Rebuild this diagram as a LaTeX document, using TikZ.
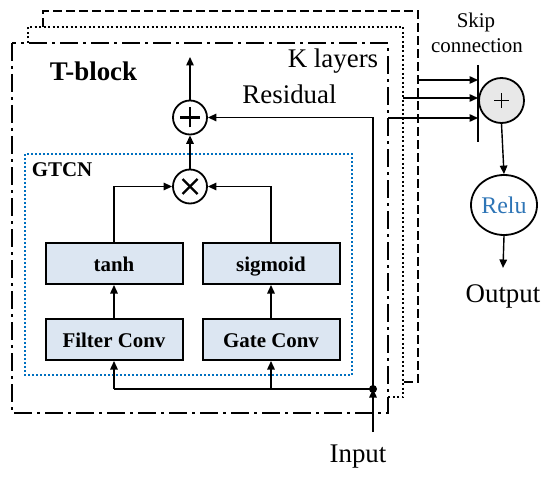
\documentclass[tikz,border=0pt]{standalone}
\usepackage{fontspec}
\setmainfont{Liberation Serif}
\usetikzlibrary{arrows.meta,shapes.geometric}
\definecolor{boxfill}{RGB}{220,230,242}
\definecolor{gtcnblue}{RGB}{0,112,192}
\definecolor{relublue}{RGB}{46,117,182}
\definecolor{skipfill}{RGB}{232,232,232}
\begin{document}
\begin{tikzpicture}[x=1bp,y=-1bp,
  conn/.style={line width=1.4bp,-{Triangle[length=8.5bp,width=7.5bp]}},
  plain/.style={line width=1.4bp},
  fbox/.style={draw,line width=2bp,fill=boxfill,minimum width=137bp,minimum height=41bp,
    inner sep=0pt,text height=16bp,text depth=0bp,font=\fontsize{21}{24}\selectfont\bfseries},
  opc/.style={draw,circle,line width=1.8bp,minimum size=34bp,inner sep=0pt},
  plussign/.style={path picture={
    \draw[line width=2.2bp] ([xshift=-10bp]path picture bounding box.center) -- ([xshift=10bp]path picture bounding box.center);
    \draw[line width=2.2bp] ([yshift=-10bp]path picture bounding box.center) -- ([yshift=10bp]path picture bounding box.center);}},
  timessign/.style={path picture={
    \draw[line width=2.2bp] ([shift={(-7.5bp,-7.5bp)}]path picture bounding box.center) -- ([shift={(7.5bp,7.5bp)}]path picture bounding box.center);
    \draw[line width=2.2bp] ([shift={(-7.5bp,7.5bp)}]path picture bounding box.center) -- ([shift={(7.5bp,-7.5bp)}]path picture bounding box.center);}},
  thinplus/.style={path picture={
    \draw[line width=1.2bp] ([xshift=-7.5bp]path picture bounding box.center) -- ([xshift=7.5bp]path picture bounding box.center);
    \draw[line width=1.2bp] ([yshift=-7.5bp]path picture bounding box.center) -- ([yshift=7.5bp]path picture bounding box.center);}},
  bigtxt/.style={inner sep=0pt,anchor=base,font=\fontsize{27}{30}\selectfont},
  smalltxt/.style={inner sep=0pt,anchor=base,font=\fontsize{21}{24}\selectfont},
]
\useasboundingbox (0,0) rectangle (550,479);

% stacked layer frames
\draw[line width=2bp,dash pattern=on 9bp off 4bp] (43,27) -- (43,11) -- (418,11) -- (418,382) -- (403,382);
\draw[line width=2bp,dash pattern=on 2bp off 2.5bp] (28,43) -- (28,27) -- (403,27) -- (403,397) -- (388,397);
\draw[line width=2.2bp,dash pattern=on 18bp off 5bp on 3bp off 5bp] (12,43) rectangle (388,413);

% GTCN frame
\draw[gtcnblue,line width=2bp,dash pattern=on 2bp off 2bp] (25,154) rectangle (352,375);

% labels
\node[bigtxt,font=\fontsize{27}{30}\selectfont\bfseries] (tblock) at (93.5,81) {T-block};
\node[bigtxt] (klayers) at (333,68) {K layers};
\node[bigtxt] (residual) at (289.5,104) {Residual};
\node[smalltxt,font=\fontsize{21}{24}\selectfont\bfseries] (gtcn) at (62,177) {GTCN};
\node[smalltxt] (skip1) at (476,28) {Skip};
\node[smalltxt] (skip2) at (477,53) {connection};

% boxes
\node[fbox] (tanh) at (114,263.5) {tanh};
\node[fbox] (sig) at (271,263.5) {sigmoid};
\node[fbox] (filt) at (114,339.5) {Filter Conv};
\node[fbox] (gate) at (271,339.5) {Gate Conv};

% operators
\node[opc,plussign] (plus) at (190,117.5) {};
\node[opc,timessign] (times) at (190,186.5) {};
\node[draw,circle,line width=1.8bp,fill=skipfill,minimum size=45bp,inner sep=0pt,thinplus] (splus) at (501.5,100.5) {};
\node[draw,ellipse,line width=1.8bp,minimum width=66bp,minimum height=60bp,inner sep=0pt,
  text=relublue,font=\fontsize{24}{27}\selectfont] (relu) at (504,205) {Relu};
\node[bigtxt] (output) at (503,302) {Output};
\node[bigtxt] (input) at (358,462) {Input};

% coordinates
\coordinate (top) at (190,57);
\coordinate (resc) at (373,117.5);
\coordinate (dot) at (373,389);
\coordinate (inb) at (373,432);
\coordinate (fb) at (114,389);
\coordinate (gb) at (271,389);
\coordinate (bart) at (478,65);
\coordinate (barb) at (478,142);
\coordinate (s1) at (418,80);
\coordinate (s2) at (403,98);
\coordinate (s3) at (388,118);
\coordinate (e1) at (478,80);
\coordinate (e2) at (478,98);
\coordinate (e3) at (478,118);
\coordinate (outtip) at (503,268);

% connectors
\draw[conn] (plus.north) -- (top);
\draw[conn] (times.north) -- (plus.south);
\draw[conn] (tanh.north) |- (times.west);
\draw[conn] (sig.north) |- (times.east);
\draw[conn] (filt.north) -- (tanh.south);
\draw[conn] (gate.north) -- (sig.south);
\draw[conn] (dot) -- (resc) -- (plus.east);
\draw[plain] (dot) -- (fb);
\draw[conn] (fb) -- (filt.south);
\draw[conn] (gb) -- (gate.south);
\draw[conn] (inb) -- (dot);
\fill (dot) circle (4bp);

% skip connections
\draw[line width=1.6bp] (bart) -- (barb);
\draw[conn] (s1) -- (e1);
\draw[conn] (s2) -- (e2);
\draw[conn] (s3) -- (e3);
\draw[conn] (splus.south) -- (relu.north);
\draw[conn] (relu.south) -- (outtip);
\end{tikzpicture}
\end{document}
